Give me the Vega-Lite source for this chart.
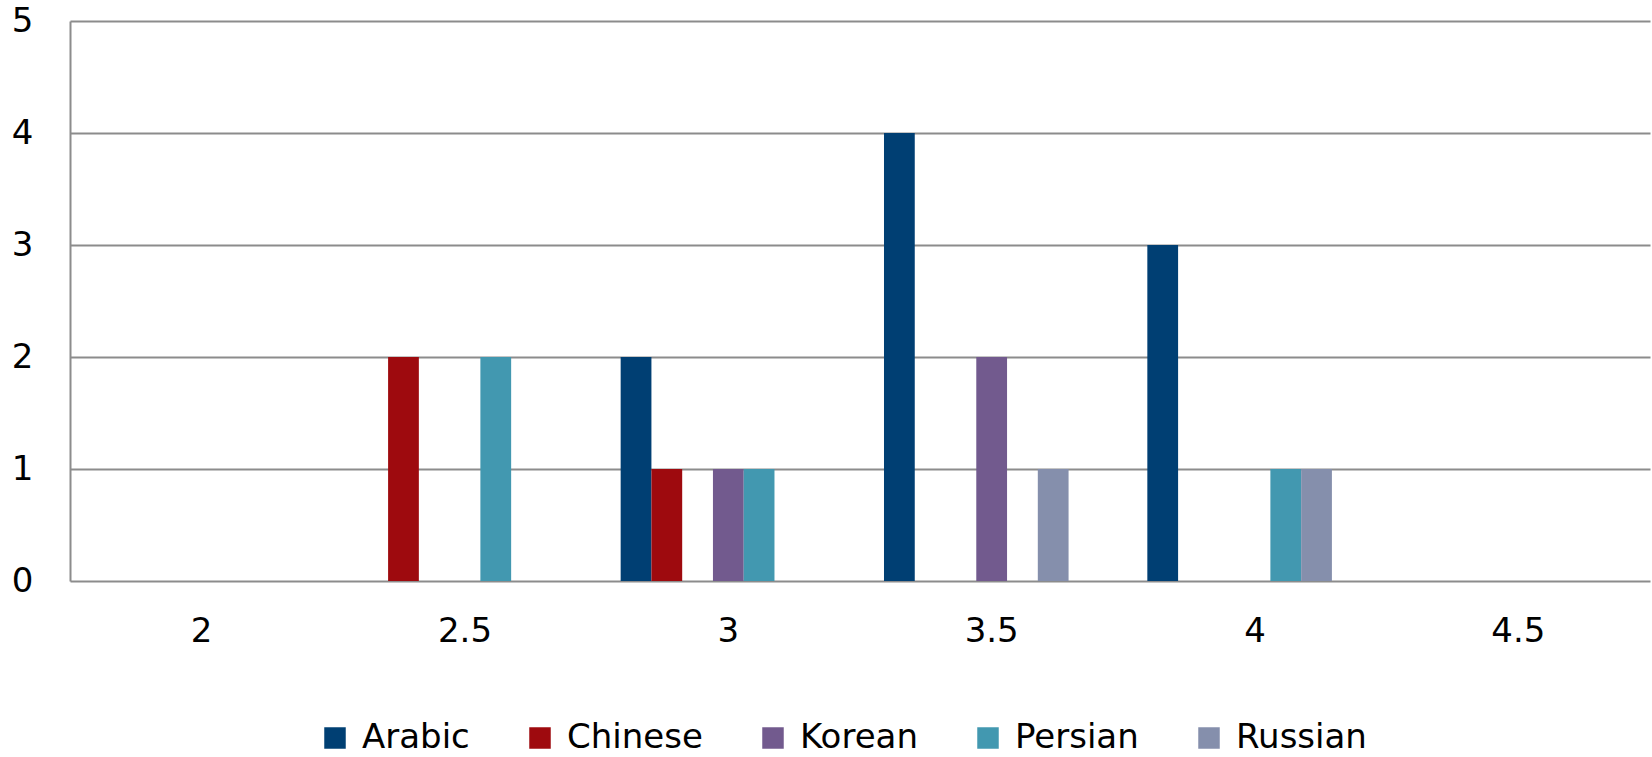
{
  "$schema": "https://vega.github.io/schema/vega-lite/v6.json",
  "width": 1580,
  "height": 560,
  "autosize": {"type": "none"},
  "padding": {"left": 70, "top": 21, "right": 2, "bottom": 176},
  "config": {
    "view": {"stroke": null},
    "font": "DejaVu Sans",
    "axis": {"labelFont": "DejaVu Sans", "labelColor": "#000000", "labelFontSize": 34, "title": null},
    "legend": {"labelFont": "DejaVu Sans", "labelColor": "#000000", "labelFontSize": 34}
  },
  "data": {
    "values": [
      {"level": "2.5", "language": "Chinese", "count": 2},
      {"level": "2.5", "language": "Persian", "count": 2},
      {"level": "3", "language": "Arabic", "count": 2},
      {"level": "3", "language": "Chinese", "count": 1},
      {"level": "3", "language": "Korean", "count": 1},
      {"level": "3", "language": "Persian", "count": 1},
      {"level": "3.5", "language": "Arabic", "count": 4},
      {"level": "3.5", "language": "Korean", "count": 2},
      {"level": "3.5", "language": "Russian", "count": 1},
      {"level": "4", "language": "Arabic", "count": 3},
      {"level": "4", "language": "Persian", "count": 1},
      {"level": "4", "language": "Russian", "count": 1}
    ]
  },
  "mark": {"type": "bar"},
  "encoding": {
    "x": {
      "field": "level",
      "type": "ordinal",
      "scale": {"domain": ["2", "2.5", "3", "3.5", "4", "4.5"], "paddingInner": 0, "paddingOuter": 0},
      "axis": {"labelAngle": 0, "ticks": false, "domain": false, "grid": false, "labelPadding": 33}
    },
    "xOffset": {
      "field": "language",
      "scale": {
        "domain": ["Arabic", "Chinese", "other1", "Korean", "Persian", "Russian", "other2"],
        "paddingInner": 0,
        "paddingOuter": 0.78
      }
    },
    "y": {
      "field": "count",
      "type": "quantitative",
      "scale": {"domain": [0, 5], "nice": false},
      "axis": {
        "values": [0, 1, 2, 3, 4, 5],
        "grid": true,
        "gridColor": "#8c8c8c",
        "gridWidth": 2,
        "gridOpacity": 1,
        "domain": true,
        "domainColor": "#8c8c8c",
        "domainWidth": 2,
        "ticks": false,
        "labelPadding": 37
      }
    },
    "color": {
      "field": "language",
      "type": "nominal",
      "scale": {
        "domain": ["Arabic", "Chinese", "Korean", "Persian", "Russian"],
        "range": ["#003F73", "#9E0A0E", "#725A8E", "#4298B0", "#858FAC"]
      },
      "legend": {
        "title": null,
        "orient": "none",
        "legendX": 248,
        "legendY": 700,
        "direction": "horizontal",
        "columns": 5,
        "columnPadding": 53,
        "padding": 0,
        "symbolType": "square",
        "symbolSize": 462,
        "symbolStrokeWidth": 0,
        "symbolOpacity": 1,
        "labelOffset": 10,
        "labelLimit": 300
      }
    }
  }
}
